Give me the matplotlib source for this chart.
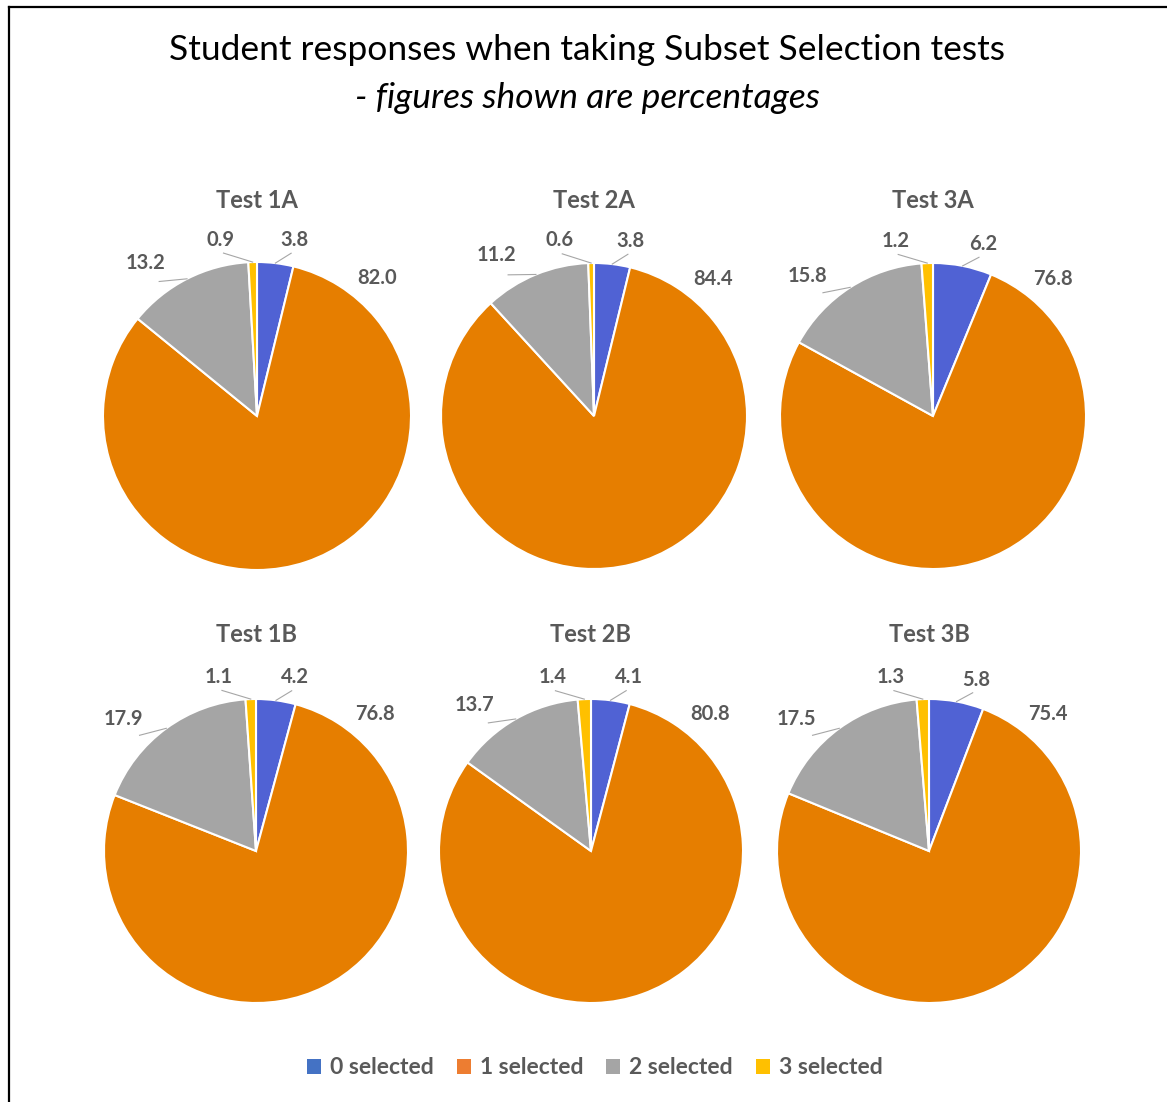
import numpy as np
import matplotlib
matplotlib.use('Agg')
import matplotlib.pyplot as plt
from matplotlib.patches import Patch
from matplotlib.lines import Line2D

plt.rcParams['font.family'] = ['Lato', 'DejaVu Sans']

# data
tests = ['Test 1A', 'Test 2A', 'Test 3A', 'Test 1B', 'Test 2B', 'Test 3B']
categories = ['0 selected', '1 selected', '2 selected', '3 selected']
zero_sel = [3.8, 3.8, 6.2, 4.2, 4.1, 5.8]
one_sel = [82.0, 84.4, 76.8, 76.8, 80.8, 75.4]
two_sel = [13.2, 11.2, 15.8, 17.9, 13.7, 17.5]
three_sel = [0.9, 0.6, 1.2, 1.1, 1.4, 1.3]

wedge_colors = ['#5062D4', '#E67E00', '#A5A5A5', '#FFC000']
legend_colors = ['#4472C4', '#ED7D31', '#A5A5A5', '#FFC000']
txt = '#595959'

W, H = 1167, 1102
fig = plt.figure(figsize=(W / 100, H / 100), dpi=100)

# pixel layout: centre x, centre y, radius, title y
layout = [(257, 416, 154, 201), (594, 416, 153, 200), (933, 416, 153, 200),
          (256, 851, 152, 635), (591, 851, 152, 635), (929, 851, 152, 635)]

fig.text(587 / W, 1 - 50 / H, 'Student responses when taking Subset Selection tests',
         ha='center', va='center', fontsize=25.5, color='black')
fig.text(587 / W, 1 - 98 / H, '- figures shown are percentages',
         ha='center', va='center', fontsize=25.5, style='italic', color='black')

def pol(r, deg):
    a = np.radians(deg)
    return r * np.sin(a), r * np.cos(a)

for i, name in enumerate(tests):
    cx, cy, r, ty = layout[i]
    R = 1.5 * r
    ax = fig.add_axes([(cx - R) / W, 1 - (cy + R) / H, 2 * R / W, 2 * R / H])
    vals = [zero_sel[i], one_sel[i], two_sel[i], three_sel[i]]
    ax.pie(vals, startangle=90, counterclock=False, colors=wedge_colors,
           radius=1.0, wedgeprops=dict(edgecolor='white', linewidth=1.5))
    ax.set_xlim(-1.5, 1.5)
    ax.set_ylim(-1.5, 1.5)
    ax.axis('off')
    tot = sum(vals)
    cum = np.cumsum([0] + vals) / tot * 360
    mids = (cum[:-1] + cum[1:]) / 2
    lab_ang = [mids[0] + 5, 41, mids[2] - 9, mids[3] - 10]
    lab_r = [1.17, 1.19, 1.23, 1.17]
    for k in range(4):
        lx, ly = pol(lab_r[k], lab_ang[k])
        ax.text(lx, ly, '%.1f' % vals[k], ha='center', va='center',
                fontsize=14.5, fontweight='bold', color=txt)
        if k != 1:
            x0, y0 = pol(1.0, mids[k])
            x1, y1 = pol(1.08, lab_ang[k])
            ax.plot([x0, x1], [y0, y1], color='#A6A6A6', lw=0.8)
    fig.text(cx / W, 1 - ty / H, name, ha='center', va='center',
             fontsize=17, fontweight='bold', color=txt)

handles = [Patch(facecolor=c, edgecolor='none') for c in legend_colors]
leg = fig.legend(handles, categories, loc='center', bbox_to_anchor=(595 / W, 1 - 1068 / H),
                 ncol=4, frameon=False, handlelength=0.6, handleheight=0.6,
                 handletextpad=0.4, columnspacing=1.0,
                 prop=dict(size=16.5, weight='bold'))
for t in leg.get_texts():
    t.set_color(txt)

# border (top and left)
fig.add_artist(Line2D([9 / W, 1], [1 - 7 / H, 1 - 7 / H], color='black', lw=1.6))
fig.add_artist(Line2D([9 / W, 9 / W], [0, 1 - 7 / H], color='black', lw=1.6))

fig.savefig('out.png', dpi=100, facecolor='white')
